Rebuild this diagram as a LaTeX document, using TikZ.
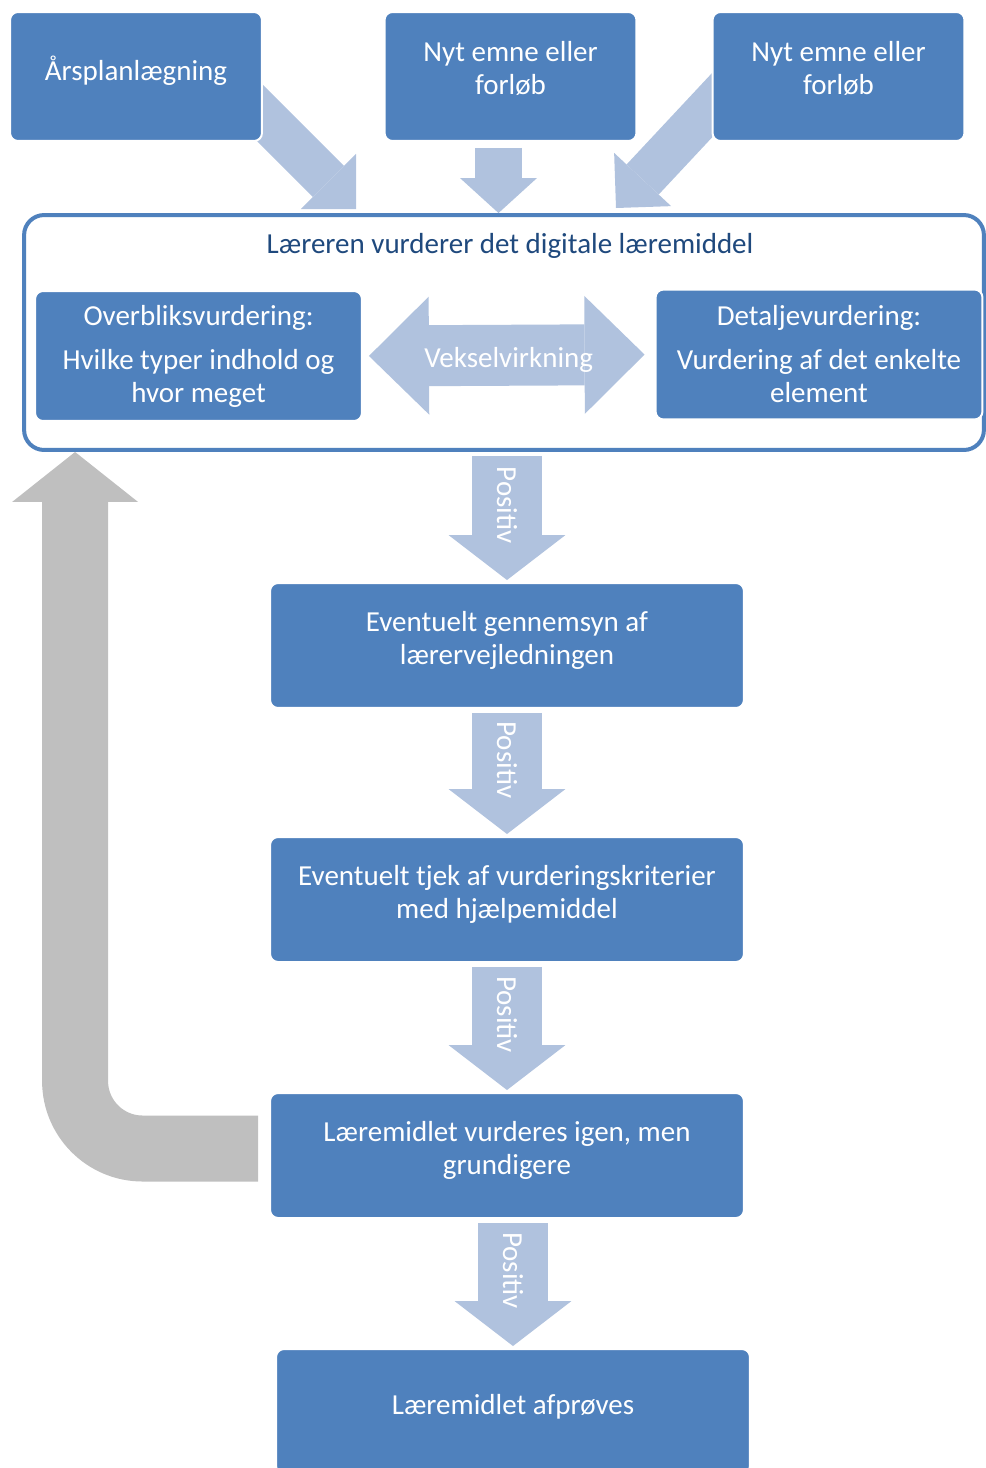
\documentclass[tikz,border=0pt]{standalone}
\usepackage{fontspec}
\setmainfont{Carlito}
\usepackage{xcolor}
\usetikzlibrary{arrows.meta, positioning, backgrounds}

\definecolor{boxblue}{HTML}{4F81BD}
\definecolor{arrowblue}{HTML}{B0C2DE}
\definecolor{titleblue}{HTML}{1F497D}
\definecolor{backgrey}{HTML}{BFBFBF}
\newcommand{\diafont}{\fontsize{16.5}{18.8}\selectfont}

\begin{document}
\begin{tikzpicture}[x=0.02cm, y=-0.02cm,
        % Define common styles for nodes
        block/.style={rectangle, fill=boxblue, draw=white, line width=0.04cm, text=white, align=center, rounded corners=0.16cm, minimum width=5.04cm, minimum height=2.58cm, font=\diafont},
        top_block/.style={block, text depth=0.33cm},
        wide_block/.style={block, text depth=0.3cm, minimum width=9.48cm, minimum height=2.5cm},
        side_block/.style={block, minimum width=6.54cm, minimum height=2.6cm},
        container/.style={rectangle, draw=boxblue, line width=0.08cm, fill=white, rounded corners=0.4cm, minimum width=19.2cm, minimum height=4.7cm},
        % Styles for the block arrows
        in_arrow/.style={draw=arrowblue, line width=0.88cm, -{Triangle[width=1.56cm, length=0.78cm, line width=0pt]}},
        mid_arrow/.style={draw=arrowblue, line width=0.94cm, shorten <=0.12cm, -{Triangle[width=1.54cm, length=0.7cm, line width=0pt]}},
        pos_arrow/.style={draw=arrowblue, line width=1.42cm, shorten <=0.08cm, shorten >=0.04cm, -{Triangle[width=2.34cm, length=0.9cm, line width=0pt]}},
        swap_arrow/.style={draw=arrowblue, line width=1.22cm, shorten <=0.12cm, shorten >=0.2cm, {Triangle[width=2.36cm, length=1.2cm, line width=0pt]}-{Triangle[width=2.36cm, length=1.2cm, line width=0pt]}},
        back_arrow/.style={draw=backgrey, line width=1.32cm, rounded corners=1.35cm, -{Triangle[width=2.52cm, length=1cm, line width=0pt]}},
        arrow_label/.style={text=white, font=\diafont},
    ]
    \useasboundingbox (0,0) rectangle (986,1468);

    % Top row (starting points)
    \node (plan) [top_block] at (136,76.5) {Årsplanlægning};
    \node (emne_a) [top_block] at (510.5,76.5) {Nyt emne eller\\forløb};
    \node (emne_b) [top_block] at (838.5,76.5) {Nyt emne eller\\forløb};

    % Container for the teacher's assessment
    \node (assess) [container] at (504,332.5) {};
    \node (assess_title) [text=titleblue, font=\diafont] at (510,246) {Læreren vurderer det digitale læremiddel};
    \node (overview) [side_block] at (198.5,356) {Overbliksvurdering:\\[0.22cm]Hvilke typer indhold og\\hvor meget};
    \node (detail) [side_block] at (819,354.5) {Detaljevurdering:\\[0.22cm]Vurdering af det enkelte\\element};

    % Steps below
    \node (guide) [wide_block] at (507,645.5) {Eventuelt gennemsyn af\\lærervejledningen};
    \node (criteria) [wide_block] at (507,899.5) {Eventuelt tjek af vurderingskriterier\\med hjælpemiddel};
    \node (again) [wide_block] at (507,1155.5) {Læremidlet vurderes igen, men\\grundigere};
    \node (trial) [wide_block] at (513,1411.5) {Læremidlet afprøves};

    % Arrows into the container
    \coordinate (in_left) at (356,209);
    \coordinate (in_right) at (616,208);
    \begin{scope}[on background layer]
        \draw[in_arrow] (245,98) -- (in_left);
        \draw[in_arrow] (730,86) -- (in_right);
    \end{scope}
    \draw[mid_arrow] ([xshift=-0.24cm]emne_a.south) -- ([xshift=-0.24cm]emne_a.south |- assess.north);

    % Interplay inside the container
    \draw[swap_arrow] (overview.east) -- (detail.west) node[arrow_label, midway, yshift=-0.1cm] {Vekselvirkning};

    % Positive path downwards
    \draw[pos_arrow] (assess.south -| guide.north) -- (guide.north) node[arrow_label, rotate=-90, pos=0.41] {Positiv};
    \draw[pos_arrow] (guide.south) -- (criteria.north) node[arrow_label, rotate=-90, pos=0.4] {Positiv};
    \draw[pos_arrow] (criteria.south) -- (again.north) node[arrow_label, rotate=-90, pos=0.4] {Positiv};
    \draw[pos_arrow] (again.south -| trial.north) -- (trial.north) node[arrow_label, rotate=-90, pos=0.4] {Positiv};

    % Back to the assessment
    \draw[back_arrow] ([xshift=-0.22cm, yshift=0.14cm]again.west) -| ([xshift=1.06cm]assess.south west);

\end{tikzpicture}
\end{document}
